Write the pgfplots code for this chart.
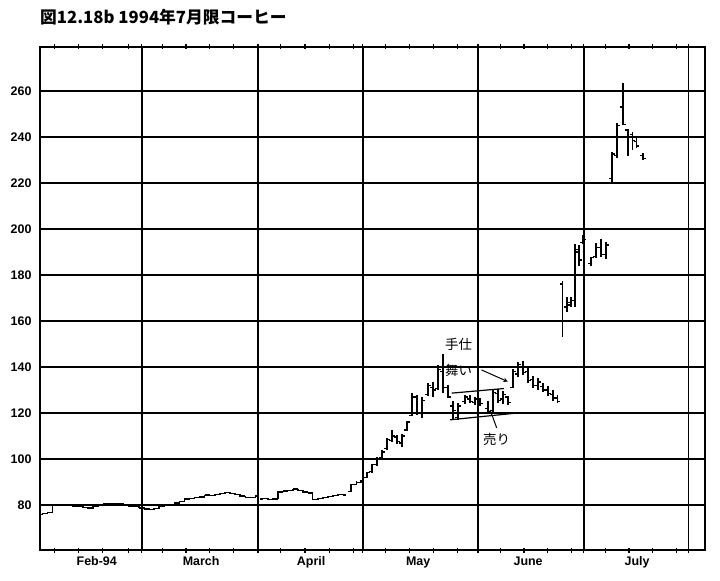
\documentclass[border=0pt]{standalone}
\usepackage{fontspec}
\setmainfont{Liberation Sans}
\newfontfamily\cjk{Noto Sans CJK JP}
\usepackage{pgfplots}
\usepackage{pgfplotstable}
\pgfplotsset{compat=1.18}

% open tick (left) and close tick (right) of a price bar
\pgfdeclareplotmark{otick}{%
  \pgfpathmoveto{\pgfqpoint{-\pgfplotmarksize}{0pt}}%
  \pgfpathlineto{\pgfqpoint{0pt}{0pt}}%
  \pgfusepathqstroke}
\pgfdeclareplotmark{ctick}{%
  \pgfpathmoveto{\pgfqpoint{0pt}{0pt}}%
  \pgfpathlineto{\pgfqpoint{\pgfplotmarksize}{0pt}}%
  \pgfusepathqstroke}

% x = trading day, o h l c in cents/lb
\pgfplotstableread{
x o h l c
0.5 75.8 76.5 75.6 76.2
1.5 76.2 76.9 76.0 76.6
2.5 76.8 80.0 76.6 79.8
3.5 79.8 80.5 79.6 80.2
4.5 80.2 80.4 79.8 80.0
5.5 80.0 80.2 79.5 79.7
6.5 79.7 79.9 79.3 79.5
7.5 79.5 79.9 79.3 79.6
8.5 79.6 79.8 78.7 78.9
9.5 78.9 79.1 78.4 78.6
10.5 78.6 79.5 78.4 79.3
11.5 79.3 80.2 79.1 80.0
12.5 80.0 80.8 79.8 80.6
13.5 80.6 80.9 80.4 80.7
14.5 80.7 80.9 80.3 80.5
15.5 80.5 80.8 80.3 80.6
16.5 80.6 80.8 79.5 79.7
17.5 79.7 79.9 79.3 79.5
18.5 79.5 79.7 79.1 79.3
19.5 79.3 79.5 78.5 78.7
20.5 78.7 78.9 78.1 78.3
21.5 78.3 78.5 77.7 77.9
22.5 77.9 78.7 77.7 78.5
23.5 78.5 79.4 78.3 79.2
24.5 79.2 80.1 79.0 79.9
25.5 79.9 80.5 79.7 80.3
26.5 80.3 81.0 80.1 80.8
27.5 80.8 81.6 80.6 81.4
28.5 81.4 82.7 81.2 82.5
29.5 82.5 83.1 82.3 82.9
30.5 82.9 83.4 82.7 83.2
31.5 83.2 83.7 83.0 83.5
32.5 83.5 84.5 83.3 84.3
33.5 84.3 84.5 83.9 84.1
34.5 84.1 84.7 83.9 84.5
35.5 84.5 85.1 84.3 84.9
36.5 84.9 85.5 84.7 85.3
37.5 85.3 85.5 84.8 85.0
38.5 85.0 85.2 84.3 84.5
39.5 84.5 84.7 83.6 83.8
40.5 83.8 84.0 83.1 83.3
41.5 83.3 83.5 83.0 83.2
42.5 83.2 84.0 83.0 83.8
44.0 82.6 83.0 82.4 82.8
45.0 82.8 83.0 82.2 82.4
46.0 82.4 82.8 82.2 82.6
47.0 82.6 85.9 82.4 85.7
48.0 85.7 86.3 85.5 86.1
48.9 86.1 86.6 85.9 86.4
49.9 86.4 87.1 86.2 86.9
50.9 86.9 87.1 86.1 86.3
51.9 86.3 86.5 85.4 85.6
52.9 85.6 85.8 85.0 85.2
53.8 85.2 85.4 82.2 82.4
54.8 82.4 83.0 82.2 82.8
55.8 82.8 83.5 82.6 83.3
56.8 83.3 83.8 83.1 83.6
57.8 83.6 84.4 83.4 84.2
58.8 84.2 84.7 84.0 84.5
59.8 84.5 84.7 84.1 84.3
61.4 85.8 89.0 85.6 88.8
62.4 89.0 90.3 88.8 89.8
63.3 89.8 90.8 89.5 90.5
64.50 92.0 94.5 91.5 94.0
65.48 94.5 98.0 94.0 97.5
66.47 97.5 101.0 97.0 100.0
67.46 100.5 104.0 100.0 103.0
68.44 104.5 109.0 104.0 108.5
69.43 108.0 112.5 107.5 110.0
70.41 109.5 110.5 106.5 107.5
71.40 107.0 111.0 105.0 110.0
72.39 112.5 116.5 112.0 116.0
73.37 119.0 128.5 118.5 127.0
74.36 127.0 128.0 119.0 120.0
75.35 120.0 127.0 118.0 125.5
76.53 128.0 133.0 127.5 132.0
77.51 131.0 133.5 127.0 130.0
78.50 130.5 141.0 130.0 139.0
79.49 138.0 145.5 128.5 131.0
80.47 131.0 132.0 126.5 127.0
81.46 123.0 125.0 117.0 121.0
82.45 118.0 124.5 117.0 123.0
83.83 125.0 128.0 124.0 127.0
84.81 126.0 128.0 124.5 125.0
85.80 124.5 127.0 123.5 126.0
86.79 126.0 126.5 123.0 124.0
88.36 122.0 125.0 119.5 120.5
89.35 121.0 130.0 120.5 129.0
90.34 128.5 130.5 124.5 125.5
91.32 126.0 129.5 124.0 128.0
92.31 127.0 127.5 123.5 124.5
93.29 131.0 139.0 131.0 138.0
94.28 137.0 142.0 135.5 141.0
95.27 140.0 142.5 136.5 137.5
96.25 138.0 140.0 133.0 134.0
97.24 134.5 136.0 131.0 132.0
98.22 132.0 135.0 130.0 133.5
99.21 131.5 133.0 129.0 130.0
100.20 130.0 131.5 127.5 128.5
101.18 128.0 130.0 125.0 126.5
102.07 126.5 128.0 124.5 125.0
103.06 176.0 177.5 153.0 160.0
103.94 166.0 170.5 164.0 168.0
104.73 167.0 170.5 166.0 169.0
105.52 169.0 193.5 166.0 190.0
106.31 191.0 193.0 184.0 186.5
107.10 194.0 197.5 193.5 195.5
108.68 185.0 188.0 184.0 187.5
109.66 188.0 194.0 187.5 192.0
110.65 192.0 195.5 188.0 189.0
111.64 189.0 194.5 187.0 193.0
112.82 222.0 233.5 220.0 232.5
113.81 232.0 246.0 231.0 245.0
114.99 253.0 263.5 245.0 245.5
115.98 243.0 243.5 231.5 240.0
116.86 241.0 242.0 234.5 238.5
117.65 238.0 240.0 235.0 236.0
118.93 232.0 233.0 230.0 230.5
}\bars

\begin{document}
\begin{tikzpicture}
\begin{axis}[
    scale only axis,
    width=665bp, height=503bp,
    xmin=0, xmax=131.2,
    ymin=60.4, ymax=279.1,
    axis line style={line width=2bp},
    /pgf/number format/assume math mode=true,
    tick label style={font=\bfseries\fontsize{12.5}{12.5}\selectfont},
    xtick={20.1,43,63.7,86.4,107.3,128},
    xticklabels={},
    minor xtick={2.8,7.6,12.4,17.4,24.2,28.8,33.4,38.2,47.5,52.3,57.1,61.9,
                 68.2,72.9,77.6,82.3,90.8,95.5,100.2,104.9,111.5,116.2,120.9,125.6},
    tick align=center,
    major tick length=6bp, minor tick length=5bp,
    every tick/.style={black, line width=1.2bp},
    extra x ticks={11.2,31.8,53.5,74.6,96.3,117.8},
    extra x tick labels={Feb-94,March,April,May,June,July},
    extra x tick style={grid=none, major tick length=0pt,
                        tick label style={yshift=-3bp}},
    ytick={80,100,...,260},
    ymajorgrids, xmajorgrids,
    major grid style={black, line width=1.3bp},
    ytick style={draw=none},
    yticklabel style={xshift=-2bp},
    clip=false,
]
% high-low bars
\addplot[draw=none, mark=none, forget plot,
    error bars/.cd, y dir=plus, y explicit, error mark=none,
    error bar style={draw=black, line width=1.5bp}]
    table[x=x, y=l, y error expr=\thisrow{h}-\thisrow{l}] {\bars};
% opening and closing ticks
\addplot[only marks, mark=otick, mark size=2.8bp, line width=1.4bp, black]
    table[x=x, y=o] {\bars};
\addplot[only marks, mark=ctick, mark size=2.8bp, line width=1.4bp, black]
    table[x=x, y=c] {\bars};

% pennant lines and notes
\draw[black, line width=1.2bp] (axis cs:81.2,128.6) -- (axis cs:91.5,130.6);
\draw[black, line width=1.2bp] (axis cs:80.9,117.0) -- (axis cs:94.3,120.0);
\draw[black, line width=1bp, -stealth] (axis cs:87.1,138.7) -- (axis cs:92.3,133.6);
\draw[black, line width=1bp] (axis cs:90.1,113.5) -- (axis cs:88.8,121.3);
\node[font=\cjk\fontsize{13.5}{13.5}\selectfont] at (axis cs:82.6,149.6) {手仕};
\node[font=\cjk\fontsize{13.5}{13.5}\selectfont] at (axis cs:82.6,138.7) {舞い};
\node[font=\cjk\fontsize{13.5}{13.5}\selectfont] at (axis cs:90.1,108.3) {売り};

\coordinate (bl) at (rel axis cs:0,0);
\coordinate (tr) at (rel axis cs:1,1);
\coordinate (tl) at (rel axis cs:0,1);
\end{axis}
\node[anchor=west, inner sep=0pt, font=\cjk\bfseries\fontsize{16.8}{16.8}\selectfont]
    at ([yshift=30bp]tl) {図12.18b 1994年7月限コーヒー};
\pgfresetboundingbox
\path[use as bounding box] ([xshift=-40bp,yshift=-31bp]bl) rectangle ([xshift=15bp,yshift=47bp]tr);
\end{tikzpicture}
\end{document}
